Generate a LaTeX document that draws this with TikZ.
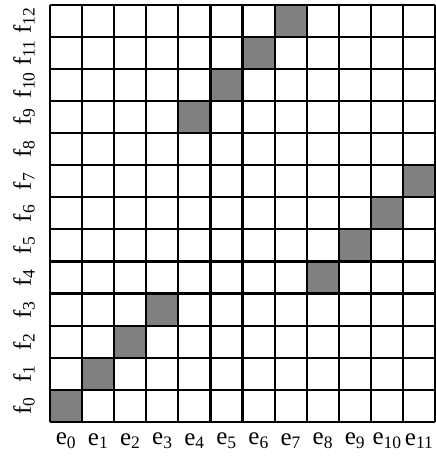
\documentclass[tikz,border=0pt]{standalone}
\usepackage{fontspec}
\setmainfont{Liberation Serif}
\usetikzlibrary{positioning}
\tikzset{
	cell/.style = {fill=gray!100!white, draw=gray},
	gridline/.style = {line width=2.2pt, black},
	lab/.style = {inner sep=0pt, font=\fontsize{25}{27}\selectfont}
}

\begin{document}
\begin{tikzpicture}[x=32.1pt,y=32.1pt]
    \useasboundingbox (-50pt,-37pt) rectangle (386pt,422pt);

    % shaded cells (column/row)
    \foreach \c/\r in {0/0,1/1,2/2,3/3,8/4,9/5,10/6,11/7,4/9,5/10,6/11,7/12}
        \path[cell] (\c,\r) rectangle ++(1,1);

    % grid
    \draw[gridline] (0,0) grid[step={(1,1)}] (12,13);

    % labels
    \foreach \i in {0,...,11}
        \node[lab] (e\i) at (\i+0.5,-19pt) {e\textsubscript{\i}};
    \foreach \j in {0,...,12}
        \node[lab, rotate=90] (f\j) at (-26pt,\j+0.5) {f\textsubscript{\j}};

\end{tikzpicture}
\end{document}
